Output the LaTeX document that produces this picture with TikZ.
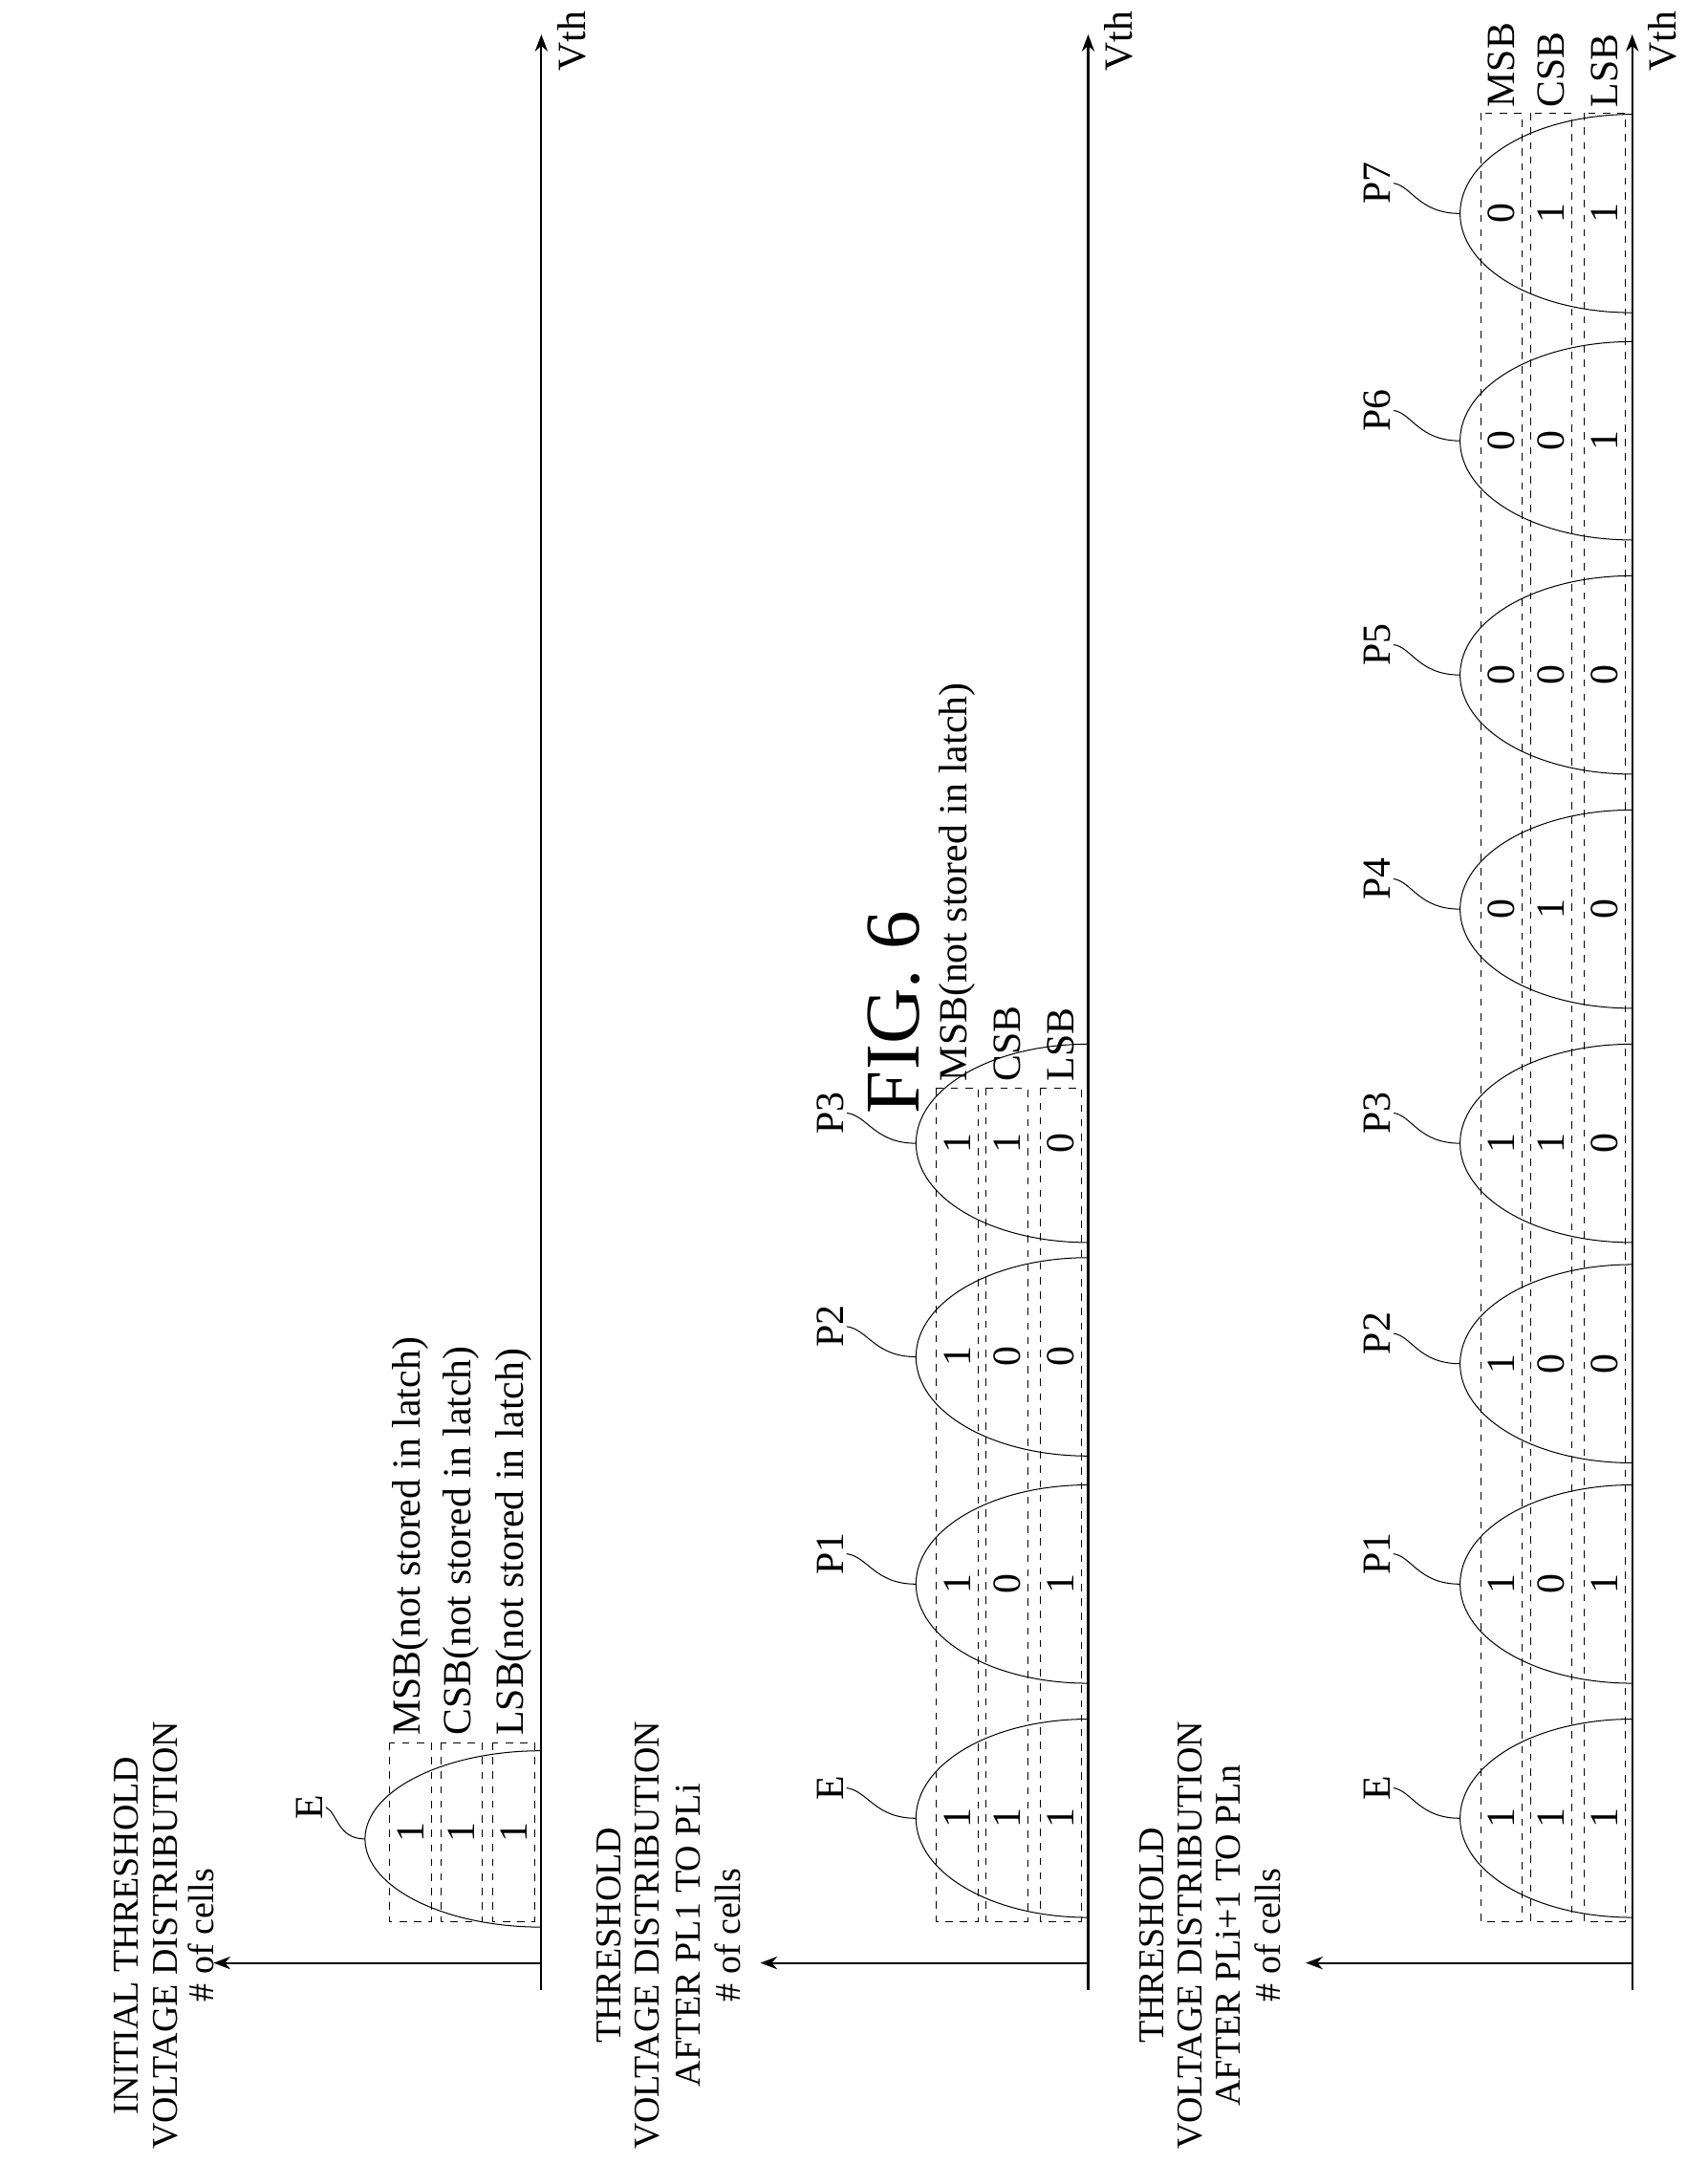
\documentclass[tikz,border=0pt]{standalone}
\usepackage{fontspec}
\setmainfont{Liberation Serif}
\usetikzlibrary{arrows.meta, positioning}

% bell curve: axis x, apex x, centre y, half width, name
\newcommand\drawbell[5]{%
  \coordinate (#5-top) at (#2,#3);
  \draw[thin] (#1,#3-#4) .. controls (#1-70,#3-#4) and (#2,#3-0.55*#4) .. (#5-top)
    .. controls (#2,#3+0.55*#4) and (#1-70,#3+#4) .. (#1,#3+#4);
}

\begin{document}
\begin{tikzpicture}[x=0.02cm, y=-0.02cm, >={Stealth[length=7pt]},
    txt/.style={font=\fontsize{16.5}{18}\selectfont, rotate=90, inner sep=1pt},
    ttl/.style={font=\fontsize{15}{17}\selectfont, rotate=90, inner sep=1pt},
    bit/.style={txt},
    bits/.style={dashed, thin},
    axis/.style={thick, ->}]
  \useasboundingbox (0,0) rectangle (1240,1571);

  \node[rotate=90, font=\fontsize{32}{36}\selectfont] (fig) at (649,735) {FIG. 6};

  % ---- initial distribution
  \coordinate (o1) at (393,1425);
  \draw[axis] (393,1445) -- (393,25) coordinate (v1);
  \draw[axis] (o1) -- (155,1425);
  \node[txt] at (415,30) {Vth};
  \node[ttl] (t1a) at (92,1405) {INITIAL THRESHOLD};
  \node[ttl] (t1b) at (120,1405) {VOLTAGE DISTRIBUTION};
  \node[ttl] (t1c) at (146,1405) {\# of cells};
  \foreach \a/\b in {283/313,320/350,358/388}
    \draw[bits] (\a,1265) rectangle (\b,1395);
  \drawbell{393}{265}{1335}{64}{e1}
  \node[txt] (le1) at (225,1312) {E};
  \draw (le1.south) .. controls (245,1316) and (245,1335) .. (e1-top);
  \foreach \x in {298,335,373}
    \node[bit] at (\x,1330) {1};
  \node[txt, anchor=west] (m1) at (298,1262) {MSB(not stored in latch)};
  \node[txt, anchor=west] (c1) at (335,1262) {CSB(not stored in latch)};
  \node[txt, anchor=west] (l1) at (373,1262) {LSB(not stored in latch)};

  % ---- after PL1 to PLi
  \coordinate (o2) at (790,1425);
  \draw[axis] (790,1445) -- (790,25) coordinate (v2);
  \draw[axis] (o2) -- (552,1425);
  \node[txt] at (812,30) {Vth};
  \node[ttl] (t2a) at (442,1405) {THRESHOLD};
  \node[ttl] (t2b) at (470,1405) {VOLTAGE DISTRIBUTION};
  \node[ttl] (t2c) at (500,1405) {AFTER PL1 TO PLi};
  \node[ttl] (t2d) at (528,1405) {\# of cells};
  \foreach \a/\b in {680/710,716/746,755/785}
    \draw[bits] (\a,790) rectangle (\b,1395);
  \foreach \n/\y/\m/\c/\l in {E/1320/1/1/1, P1/1150/1/0/1, P2/985/1/0/0, P3/830/1/1/0} {
    \drawbell{790}{665}{\y}{72}{b\n}
    \node[txt] (lb\n) at (603,\y-22) {\n};
    \draw (lb\n.south) .. controls (630,\y-20) and (635,\y) .. (b\n-top);
    \node[bit] at (695,\y) {\m};
    \node[bit] at (731,\y) {\c};
    \node[bit] at (770,\y) {\l};
  }
  \node[txt, anchor=west] (m2) at (695,787) {MSB(not stored in latch)};
  \node[txt, anchor=west] (c2) at (731,787) {CSB};
  \node[txt, anchor=west] (l2) at (770,787) {LSB};

  % ---- after PLi+1 to PLn
  \coordinate (o3) at (1185,1425);
  \draw[axis] (1185,1445) -- (1185,25) coordinate (v3);
  \draw[axis] (o3) -- (948,1425);
  \node[txt] at (1207,30) {Vth};
  \node[ttl] (t3a) at (836,1405) {THRESHOLD};
  \node[ttl] (t3b) at (864,1405) {VOLTAGE DISTRIBUTION};
  \node[ttl] (t3c) at (892,1405) {AFTER PLi+1 TO PLn};
  \node[ttl] (t3d) at (920,1405) {\# of cells};
  \foreach \a/\b in {1075/1105,1111/1141,1150/1180}
    \draw[bits] (\a,82) rectangle (\b,1395);
  \foreach \n/\y/\m/\c/\l in {E/1320/1/1/1, P1/1150/1/0/1, P2/990/1/0/0, P3/830/1/1/0,
      P4/660/0/1/0, P5/490/0/0/0, P6/320/0/0/1, P7/155/0/1/1} {
    \drawbell{1185}{1060}{\y}{72}{c\n}
    \node[txt] (lc\n) at (1000,\y-22) {\n};
    \draw (lc\n.south) .. controls (1025,\y-20) and (1030,\y) .. (c\n-top);
    \node[bit] at (1090,\y) {\m};
    \node[bit] at (1126,\y) {\c};
    \node[bit] at (1165,\y) {\l};
  }
  \node[txt, anchor=west] (m3) at (1090,80) {MSB};
  \node[txt, anchor=west] (c3) at (1126,80) {CSB};
  \node[txt, anchor=west] (l3) at (1165,80) {LSB};
\end{tikzpicture}
\end{document}
